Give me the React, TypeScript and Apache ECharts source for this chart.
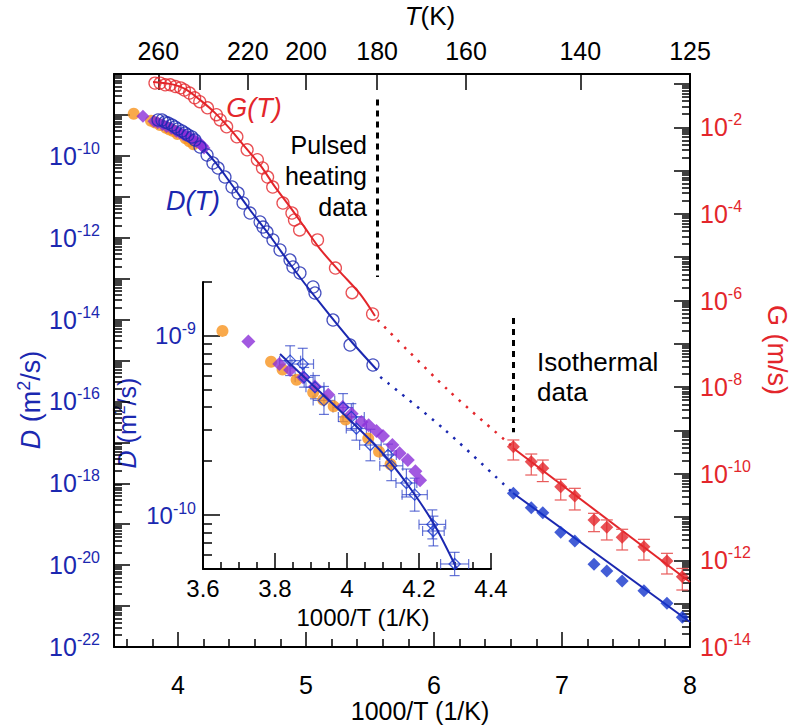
import React, { useEffect, useRef } from 'react';
import * as echarts from 'echarts';

const FONT = '"Liberation Sans", Arial, Helvetica, sans-serif';
const BLUE = '#1b28b0';
const BLUE_PT = '#1434cc';
const RED = '#e3262b';
const ORANGE = '#f7941e';
const PURPLE = '#8b2fd8';

// ---------- main plot: x = 1000/T (1/K), values stored as log10 ----------
// D(T) pulsed-heating data (open blue circles), log10 D [m^2/s]
const dPulsedX = [3.844, 3.875, 3.898, 3.922, 3.953, 3.977, 4.0, 4.031, 4.055, 4.078, 4.109, 4.133, 4.172, 4.227, 4.273, 4.313, 4.367, 4.422, 4.469, 4.508, 4.563, 4.641, 4.664, 4.695, 4.742, 4.797, 4.875, 4.898, 4.953, 5.055, 5.070, 5.211, 5.344, 5.523];
const dPulsedLogD = [-9.124, -9.124, -9.173, -9.198, -9.247, -9.295, -9.344, -9.393, -9.442, -9.491, -9.540, -9.613, -9.784, -9.979, -10.175, -10.297, -10.517, -10.761, -10.908, -11.152, -11.397, -11.616, -11.739, -11.861, -12.056, -12.300, -12.545, -12.716, -12.862, -13.204, -13.351, -14.011, -14.622, -15.110];

// G(T) pulsed-heating data (open red circles), log10 G [m/s]
const gPulsedX = [3.82, 3.86, 3.90, 3.94, 3.98, 4.02, 4.05, 4.09, 4.13, 4.17, 4.23, 4.30, 4.33, 4.38, 4.46, 4.54, 4.62, 4.66, 4.70, 4.74, 4.82, 4.89, 4.91, 4.95, 5.09, 5.23, 5.36, 5.52];
const gPulsedLogG = [-0.98, -0.98, -1.02, -1.02, -1.06, -1.09, -1.14, -1.21, -1.32, -1.41, -1.55, -1.71, -1.83, -1.99, -2.22, -2.52, -2.75, -2.94, -3.15, -3.38, -3.75, -3.98, -4.14, -4.37, -4.60, -5.25, -5.82, -6.31];

// Fits
const dFitX = [3.828, 3.977, 4.094, 4.172, 4.289, 4.422, 4.563, 4.719, 4.898, 5.109, 5.344, 5.555];
const dFitLogD = [-9.075, -9.271, -9.491, -9.735, -10.150, -10.712, -11.323, -11.958, -12.740, -13.595, -14.499, -15.232];
const dGapX = [5.58, 6.086, 6.617];
const dGapLogD = [-15.40, -16.698, -18.238];
const dIsoFitX = [6.617, 8.0];
const dIsoFitLogD = [-18.238, -21.389];

const gFitX = [3.805, 3.938, 4.055, 4.172, 4.289, 4.406, 4.523, 4.641, 4.758, 4.875, 4.992, 5.109, 5.266, 5.422, 5.539];
const gFitLogG = [-0.952, -0.998, -1.113, -1.367, -1.667, -2.037, -2.453, -2.868, -3.376, -3.838, -4.323, -4.808, -5.339, -5.848, -6.356];
const gGapX = [5.56, 6.109, 6.617];
const gGapLogG = [-6.45, -8.065, -9.381];
const gIsoFitX = [6.617, 8.0];
const gIsoFitLogG = [-9.404, -12.499];

// Isothermal data (filled diamonds)
const isoX = [6.62, 6.76, 6.85, 6.99, 7.10, 7.25, 7.35, 7.47, 7.64, 7.82, 7.94];
const dIsoLogD = [-18.245, -18.597, -18.719, -19.198, -19.410, -19.979, -20.143, -20.388, -20.624, -20.932, -21.274];
const gIsoLogG = [-9.374, -9.721, -9.873, -10.298, -10.513, -11.067, -11.236, -11.467, -11.684, -12.014, -12.376];
const gIsoErrUp = [0.154, 0.177, 0.19, 0.17, 0.177, 0.154, 0.17, 0.185, 0.17, 0.177, 0.19];
const gIsoErrDown = [0.308, 0.308, 0.308, 0.308, 0.323, 0.27, 0.293, 0.293, 0.308, 0.3, 0.308];

// Other D data sets (shown in main plot and inset)
const orangeX = [3.654, 3.789, 3.821, 3.860, 3.906, 3.934, 3.963, 3.996, 4.059, 4.089, 4.121];
const orangeLogD = [-8.972, -9.144, -9.188, -9.245, -9.316, -9.356, -9.393, -9.467, -9.572, -9.646, -9.716];
const purpleX = [3.726, 3.812, 3.842, 3.878, 3.911, 3.948, 3.988, 4.013, 4.040, 4.060, 4.082, 4.100, 4.126, 4.146, 4.169, 4.190, 4.203];
const purpleLogD = [-9.031, -9.157, -9.190, -9.231, -9.282, -9.328, -9.397, -9.434, -9.480, -9.498, -9.531, -9.559, -9.609, -9.655, -9.692, -9.756, -9.806];

// Inset: open blue diamonds with x/y error bars
const insetX = [3.842, 3.877, 3.881, 3.911, 3.936, 3.989, 4.012, 4.026, 4.065, 4.114, 4.123, 4.165, 4.188, 4.237, 4.240, 4.299];
const insetLogD = [-9.138, -9.157, -9.231, -9.286, -9.360, -9.400, -9.452, -9.517, -9.609, -9.664, -9.725, -9.821, -9.886, -10.052, -10.089, -10.273];
const insetXErr = [0.029, 0.030, 0.025, 0.025, 0.030, 0.028, 0.036, 0.028, 0.030, 0.023, 0.032, 0.029, 0.035, 0.037, 0.030, 0.039];
const insetLogErr = [0.083, 0.088, 0.055, 0.065, 0.078, 0.078, 0.074, 0.065, 0.088, 0.060, 0.083, 0.078, 0.092, 0.081, 0.083, 0.065];
const insetFitX = [3.814, 3.906, 3.999, 4.091, 4.165, 4.239, 4.305];
const insetFitLogD = [-9.101, -9.277, -9.452, -9.637, -9.821, -10.042, -10.30];

// Boundary markers (dotted vertical lines)
const boundaryTemps = [180, 151];
const boundaryTopLogD = [-8.62, -13.96];
const boundaryBottomLogD = [-12.96, -16.75];

// Axis ticks / labels
const xMajor = [4, 5, 6, 7, 8];
const tempTicks = [260, 240, 220, 200, 180, 160, 140, 125];
const tempLabels = [260, 220, 200, 180, 160, 140, 125];
const dLabelExps = [-22, -20, -18, -16, -14, -12, -10];
const gLabelExps = [-14, -12, -10, -8, -6, -4, -2];
const insetXMajor = [3.6, 3.8, 4, 4.2, 4.4];
const insetYLabelExps = [-10, -9];

const D_MIN = -22, D_MAX = -8;
const G_MIN = -14, G_MAX = -0.77;
const IN_MIN = Math.log10(5e-11), IN_MAX = Math.log10(2e-9);

function pairs(xs: number[], ys: number[]) {
  return xs.map((x, i) => [x, ys[i]]);
}

function logMinor(lo: number, hi: number, min: number, max: number) {
  const out: number[] = [];
  for (let n = lo; n <= hi; n++) {
    for (let k = 2; k <= 9; k++) {
      const v = n + Math.log10(k);
      if (v >= min - 1e-9 && v <= max + 1e-9) out.push(v);
    }
  }
  return out;
}

const xMinor: number[] = [];
for (let i = 36; i <= 78; i += 2) if (i % 10 !== 0) xMinor.push(i / 10);
const insetXMinor: number[] = [];
for (let i = 360; i <= 440; i += 5) if (i % 20 !== 0) insetXMinor.push(i / 100);

const AX_LINE = { show: true, onZero: false, lineStyle: { color: '#000', width: 2 } };
const NO_LINE = { show: false, onZero: false };
const tick = (len: number, values: number[]) => ({
  show: true, inside: true, length: len, customValues: values,
  lineStyle: { color: '#000', width: 1.5 },
});

const supRich = (color: string, base: number, sup: number) => ({
  b: { fontSize: base, color, fontFamily: FONT, lineHeight: base + 6 },
  s: { fontSize: sup, color, fontFamily: FONT, verticalAlign: 'top', lineHeight: sup - 2 },
});

function yErrRender(color: string, cap: number) {
  return (params: any, api: any) => {
    const x = api.value(0);
    const lo = api.coord([x, api.value(1)]);
    const hi = api.coord([x, api.value(2)]);
    const style = { stroke: color, lineWidth: 1.2 };
    return {
      type: 'group',
      children: [
        { type: 'line', shape: { x1: lo[0], y1: lo[1], x2: hi[0], y2: hi[1] }, style },
        { type: 'line', shape: { x1: lo[0] - cap, y1: lo[1], x2: lo[0] + cap, y2: lo[1] }, style },
        { type: 'line', shape: { x1: hi[0] - cap, y1: hi[1], x2: hi[0] + cap, y2: hi[1] }, style },
      ],
    };
  };
}

function xyErrRender(color: string, cap: number) {
  return (params: any, api: any) => {
    const x = api.value(0), y = api.value(1), xe = api.value(2), ye = api.value(3);
    const l = api.coord([x - xe, y]);
    const r = api.coord([x + xe, y]);
    const t = api.coord([x, y + ye]);
    const b = api.coord([x, y - ye]);
    const style = { stroke: color, lineWidth: 1.2 };
    return {
      type: 'group',
      children: [
        { type: 'line', shape: { x1: l[0], y1: l[1], x2: r[0], y2: r[1] }, style },
        { type: 'line', shape: { x1: t[0], y1: t[1], x2: b[0], y2: b[1] }, style },
        { type: 'line', shape: { x1: l[0], y1: l[1] - cap, x2: l[0], y2: l[1] + cap }, style },
        { type: 'line', shape: { x1: r[0], y1: r[1] - cap, x2: r[0], y2: r[1] + cap }, style },
        { type: 'line', shape: { x1: t[0] - cap, y1: t[1], x2: t[0] + cap, y2: t[1] }, style },
        { type: 'line', shape: { x1: b[0] - cap, y1: b[1], x2: b[0] + cap, y2: b[1] }, style },
      ],
    };
  };
}

function textEl(x: number, y: number, text: string, opts: any = {}) {
  const { rotation = 0, align = 'center', vAlign = 'middle', fill = '#000', fontSize = 26, fontStyle = 'normal', rich, lineHeight } = opts;
  return {
    type: 'text', x, y, rotation, silent: true,
    style: {
      text, fill, fontSize, fontStyle, fontFamily: FONT,
      align, verticalAlign: vAlign, textAlign: align, textVerticalAlign: vAlign,
      rich, lineHeight,
    },
  };
}

function buildOption(): any {
  const lineS = (xi: number, yi: number, xs: number[], ys: number[], color: string, dotted = false, extra: any = {}) => ({
    type: 'line', xAxisIndex: xi, yAxisIndex: yi, data: pairs(xs, ys), symbol: 'none', smooth: 0.3,
    lineStyle: { color, width: dotted ? 2.5 : 2, type: dotted ? [2.5, 7] : 'solid' },
    z: 2, silent: true, ...extra,
  });
  const scatterS = (xi: number, yi: number, xs: number[], ys: number[], symbol: string, size: number, fill: string, border?: string) => ({
    type: 'scatter', xAxisIndex: xi, yAxisIndex: yi, data: pairs(xs, ys), symbol, symbolSize: size,
    itemStyle: border
      ? { color: 'rgba(255,255,255,0)', borderColor: border, borderWidth: 1.3 }
      : { color: fill },
    z: 3, silent: true,
  });

  const gErrData = isoX.map((x, i) => [x, gIsoLogG[i] - gIsoErrDown[i], gIsoLogG[i] + gIsoErrUp[i]]);
  const insetErrData = insetX.map((x, i) => [x, insetLogD[i], insetXErr[i], insetLogErr[i]]);

  const boundaryLines = boundaryTemps.map((t, i) => [
    { coord: [1000 / t, boundaryTopLogD[i]] },
    { coord: [1000 / t, boundaryBottomLogD[i]] },
  ]);

  const supTitleRich = (color: string, size: number) => ({
    i: { fontStyle: 'italic', fontSize: size, fontFamily: FONT, fill: color, lineHeight: size + 6 },
    n: { fontSize: size, fontFamily: FONT, fill: color, lineHeight: size + 6 },
    s: { fontSize: size - 9, fontFamily: FONT, fill: color, verticalAlign: 'top', lineHeight: size - 11 },
  });

  return {
    animation: false,
    backgroundColor: '#fff',
    textStyle: { fontFamily: FONT },
    grid: [
      { left: 114, top: 74, width: 576, height: 573, containLabel: false, outerBoundsMode: 'none' },
      { left: 203, top: 282, width: 288, height: 287, containLabel: false, outerBoundsMode: 'none' },
    ],
    xAxis: [
      { // 0 main bottom major
        gridIndex: 0, type: 'value', position: 'bottom', min: 3.5, max: 8,
        axisLine: AX_LINE, axisTick: tick(15, xMajor), splitLine: { show: false },
        axisLabel: { customValues: xMajor, fontSize: 25, color: '#000', margin: 25, fontFamily: FONT, formatter: (v: number) => String(Math.round(v)) },
      },
      { // 1 main bottom minor
        gridIndex: 0, type: 'value', position: 'bottom', min: 3.5, max: 8,
        axisLine: NO_LINE, axisTick: tick(8, xMinor), axisLabel: { show: false }, splitLine: { show: false },
      },
      { // 2 main top: T (K)
        gridIndex: 0, type: 'value', position: 'top', min: 3.5, max: 8,
        axisLine: AX_LINE, axisTick: tick(16, tempTicks.map((t) => 1000 / t)), splitLine: { show: false },
        axisLabel: {
          customValues: tempLabels.map((t) => 1000 / t), fontSize: 25, color: '#000', margin: 11, fontFamily: FONT,
          formatter: (v: number) => String(Math.round(1000 / v)),
        },
      },
      { // 3 inset bottom major
        gridIndex: 1, type: 'value', position: 'bottom', min: 3.6, max: 4.4,
        axisLine: AX_LINE, axisTick: tick(16, insetXMajor), splitLine: { show: false },
        axisLabel: {
          customValues: insetXMajor, fontSize: 24, color: '#000', margin: 7, fontFamily: FONT,
          formatter: (v: number) => String(Math.round(v * 10) / 10),
        },
      },
      { // 4 inset bottom minor
        gridIndex: 1, type: 'value', position: 'bottom', min: 3.6, max: 4.4,
        axisLine: NO_LINE, axisTick: tick(7, insetXMinor), axisLabel: { show: false }, splitLine: { show: false },
      },
    ],
    yAxis: [
      { // 0 main left major (D)
        gridIndex: 0, type: 'value', position: 'left', min: D_MIN, max: D_MAX,
        axisLine: AX_LINE, axisTick: tick(16, Array.from({ length: 15 }, (_, i) => D_MIN + i)), splitLine: { show: false },
        axisLabel: {
          customValues: dLabelExps, margin: 14, formatter: (v: number) => `{b|10}{s|${Math.round(v)}}`,
          rich: supRich(BLUE, 25, 16),
        },
      },
      { // 1 main left minor
        gridIndex: 0, type: 'value', position: 'left', min: D_MIN, max: D_MAX,
        axisLine: NO_LINE, axisTick: tick(8, logMinor(-22, -9, D_MIN, D_MAX)), axisLabel: { show: false }, splitLine: { show: false },
      },
      { // 2 main right major (G)
        gridIndex: 0, type: 'value', position: 'right', min: G_MIN, max: G_MAX,
        axisLine: AX_LINE, axisTick: tick(16, Array.from({ length: 14 }, (_, i) => G_MIN + i)), splitLine: { show: false },
        axisLabel: {
          customValues: gLabelExps, margin: 10, formatter: (v: number) => `{b|10}{s|${Math.round(v)}}`,
          rich: supRich(RED, 25, 16),
        },
      },
      { // 3 main right minor
        gridIndex: 0, type: 'value', position: 'right', min: G_MIN, max: G_MAX,
        axisLine: NO_LINE, axisTick: tick(8, logMinor(-14, -1, G_MIN, G_MAX)), axisLabel: { show: false }, splitLine: { show: false },
      },
      { // 4 inset left major
        gridIndex: 1, type: 'value', position: 'left', min: IN_MIN, max: IN_MAX,
        axisLine: AX_LINE, axisTick: tick(17, [-10, -9]), splitLine: { show: false },
        axisLabel: {
          customValues: insetYLabelExps, margin: 7, formatter: (v: number) => `{b|10}{s|${Math.round(v)}}`,
          rich: supRich(BLUE, 24, 16),
        },
      },
      { // 5 inset left minor
        gridIndex: 1, type: 'value', position: 'left', min: IN_MIN, max: IN_MAX,
        axisLine: NO_LINE, axisTick: tick(9, logMinor(-11, -9, IN_MIN, IN_MAX)), axisLabel: { show: false }, splitLine: { show: false },
      },
    ],
    series: [
      lineS(0, 0, dFitX, dFitLogD, BLUE, false, {
        markLine: {
          silent: true, symbol: ['none', 'none'], label: { show: false },
          lineStyle: { color: '#000', width: 3, type: [6, 5] },
          data: boundaryLines,
        },
      }),
      lineS(0, 0, dGapX, dGapLogD, BLUE, true),
      lineS(0, 0, dIsoFitX, dIsoFitLogD, BLUE),
      lineS(0, 2, gFitX, gFitLogG, RED),
      lineS(0, 2, gGapX, gGapLogG, RED, true),
      lineS(0, 2, gIsoFitX, gIsoFitLogG, RED),
      scatterS(0, 0, orangeX, orangeLogD, 'circle', 12, ORANGE),
      scatterS(0, 0, purpleX, purpleLogD, 'diamond', 13, PURPLE),
      scatterS(0, 0, dPulsedX, dPulsedLogD, 'circle', 12, '', BLUE),
      scatterS(0, 2, gPulsedX, gPulsedLogG, 'circle', 12, '', RED),
      {
        type: 'custom', xAxisIndex: 0, yAxisIndex: 2, data: gErrData, renderItem: yErrRender('#e85a5a', 6),
        encode: { x: 0, y: [1, 2] }, z: 3, silent: true,
      },
      scatterS(0, 2, isoX, gIsoLogG, 'diamond', 13, RED),
      scatterS(0, 0, isoX, dIsoLogD, 'diamond', 13, BLUE_PT),
      // inset
      scatterS(3, 4, orangeX, orangeLogD, 'circle', 12, ORANGE),
      scatterS(3, 4, purpleX, purpleLogD, 'diamond', 14, PURPLE),
      {
        type: 'custom', xAxisIndex: 3, yAxisIndex: 4, data: insetErrData, renderItem: xyErrRender('rgba(50,70,200,0.75)', 5),
        encode: { x: 0, y: 1 }, z: 3, silent: true,
      },
      scatterS(3, 4, insetX, insetLogD, 'diamond', 11, '', BLUE_PT),
      lineS(3, 4, insetFitX, insetFitLogD, BLUE, false, { z: 4 }),
    ],
    graphic: [
      textEl(430, 16, '{i|T}{n|(K)}', { rich: supTitleRich('#000', 26) }),
      textEl(420, 711, '1000/T (1/K)', { fontSize: 25 }),
      textEl(31, 400, '{i|D}{n| (m}{s|2}{n|/s)}', {
        rotation: Math.PI / 2, fill: BLUE, fontSize: 27, rich: supTitleRich(BLUE, 27),
      }),
      textEl(777, 350, 'G (m/s)', { rotation: -Math.PI / 2, fill: RED, fontSize: 27 }),
      textEl(127, 423, '{i|D}{n| (m}{s|2}{n|/s)}', {
        rotation: Math.PI / 2, fill: BLUE, fontSize: 25, rich: supTitleRich(BLUE, 25),
      }),
      textEl(363, 617, '1000/T (1/K)', { fontSize: 24 }),
      textEl(254, 108, 'G(T)', { fill: RED, fontStyle: 'italic', fontSize: 27 }),
      textEl(193, 201, 'D(T)', { fill: BLUE, fontStyle: 'italic', fontSize: 27 }),
      textEl(367, 176, 'Pulsed\nheating\ndata', { align: 'right', fontSize: 25, lineHeight: 31 }),
      textEl(537, 377, 'Isothermal\ndata', { align: 'left', fontSize: 26, lineHeight: 30 }),
    ],
  };
}

export default function App() {
  const ref = useRef<HTMLDivElement>(null);
  useEffect(() => {
    if (!ref.current) return;
    const chart = echarts.init(ref.current, null, { renderer: 'svg' });
    chart.setOption(buildOption());
    return () => chart.dispose();
  }, []);
  return (
    <div
      ref={ref}
      style={{ position: 'fixed', left: 0, top: 0, width: 793, height: 728, background: '#fff' }}
    />
  );
}
